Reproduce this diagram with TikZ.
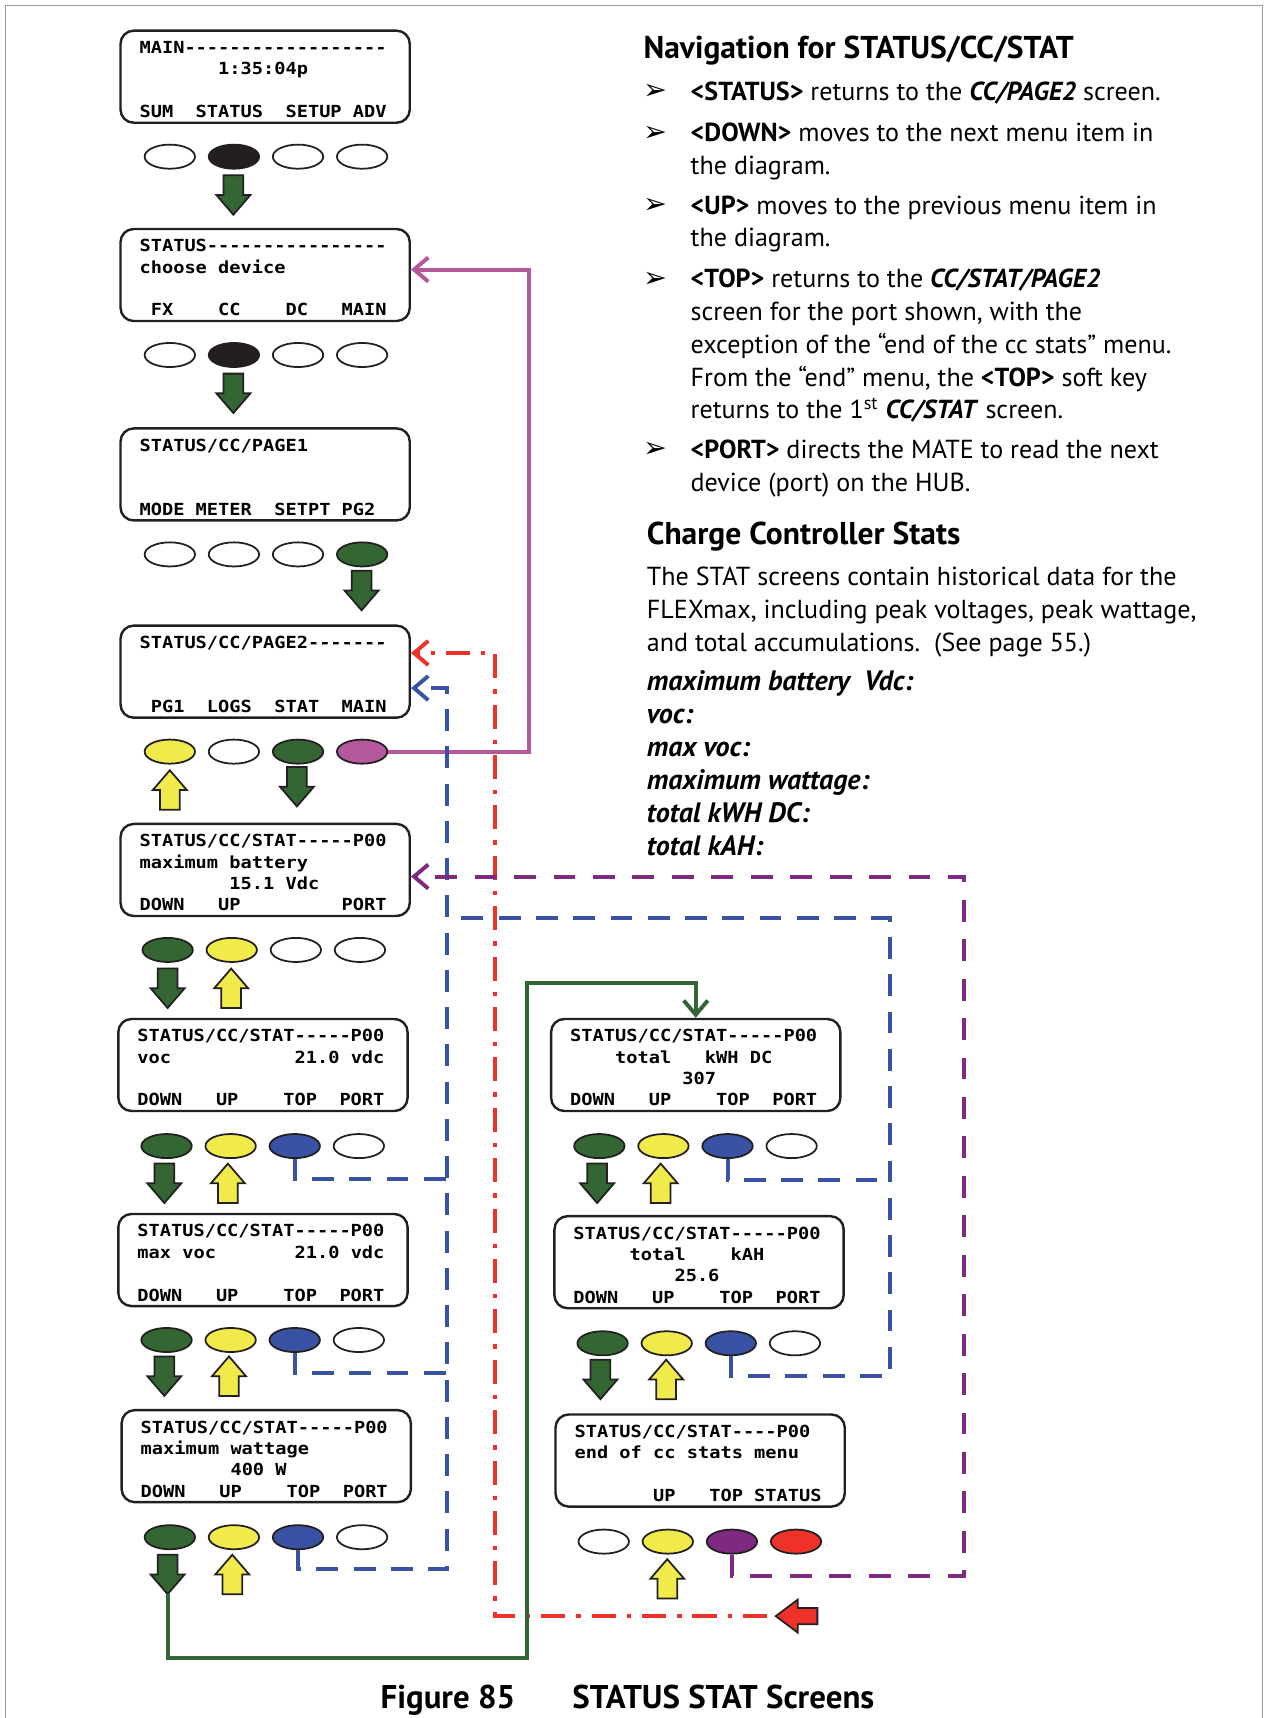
\documentclass[tikz,border=0pt]{standalone}
\usepackage{fontspec}
\setmainfont{PT Sans}
\setmonofont{DejaVu Sans Mono}[FakeStretch=1.12]
\newfontfamily\dingfont{DejaVu Sans}
\usetikzlibrary{shapes.geometric,arrows.meta}
\definecolor{kgreen}{RGB}{52,102,52}
\definecolor{kyellow}{RGB}{240,234,75}
\definecolor{kblue}{RGB}{58,82,163}
\definecolor{kmag}{RGB}{181,88,158}
\definecolor{kpur}{RGB}{125,42,128}
\definecolor{kred}{RGB}{238,50,42}
\definecolor{kblack}{RGB}{35,31,32}
\newcommand\bi[1]{\textbf{\textit{#1}}}
% lcd screen: name, x, y (top left), four lines
\newcommand\lcd[7]{%
  \node[lcdbox] (#1) at (#2+132,#3+42) {};
  \node[lcdtext] (#1t) at (#2+17,#3+6.85) {\strut#4\\\strut#5\\\strut#6\\\strut#7};}
% row of soft keys: name, x of first key, y, four fills
\newcommand\keyrow[7]{%
  \foreach \c [count=\i] in {#4,#5,#6,#7}
    \node[key,fill=\c] (#1\i) at (#2+58.5*\i-58.5,#3) {};}
\newcommand\dnarr[3]{%
  \draw[blk,fill=kgreen] (#2-9,#3) -- ++(18,0) -- ++(0,18) -- ++(6.5,0)
    -- ++(-15.5,18) coordinate (#1) -- ++(-15.5,-18) -- ++(6.5,0) -- cycle;}
\newcommand\uparr[2]{%
  \draw[blk,fill=kyellow] (#1,#2) -- ++(15.5,18) -- ++(-6.5,0) -- ++(0,18)
    -- ++(-18,0) -- ++(0,-18) -- ++(-6.5,0) -- cycle;}
\begin{document}
\begin{tikzpicture}[x=0.5pt,y=-0.5pt,
    lcdbox/.style={draw=kblack,line width=1.1pt,rounded corners=6pt,minimum width=132pt,minimum height=42pt,inner sep=0},
    lcdtext/.style={anchor=north west,inner sep=0,align=left,font=\ttfamily\bfseries\fontsize{7.6}{9.75}\selectfont},
    key/.style={ellipse,draw=kblack,line width=0.8pt,minimum width=23pt,minimum height=11pt,inner sep=0},
    blk/.style={draw=kblack,line width=0.8pt},
    bartip/.style={-{Straight Barb[length=6.5pt,width=11pt]}},
    magline/.style={kmag,line width=1.8pt,bartip},
    redline/.style={kred,line width=1.8pt,dash pattern=on 11pt off 5pt on 2pt off 5pt,bartip},
    blueline/.style={kblue,line width=1.8pt,dash pattern=on 10pt off 7pt},
    purline/.style={kpur,line width=1.8pt,dash pattern=on 10pt off 8pt},
    grnline/.style={kgreen,line width=1.8pt},
    txt/.style={anchor=north west,inner sep=0,align=left,font=\fontsize{11.9}{15}\selectfont},
    hd/.style={anchor=base west,inner sep=0,font=\bfseries\fontsize{14.4}{17}\selectfont},
    bul/.style={anchor=base west,inner sep=0,font=\dingfont\fontsize{13}{15}\selectfont},
    figcap/.style={anchor=base west,inner sep=0,font=\bfseries\fontsize{15}{18}\selectfont}]
\useasboundingbox (0,0) rectangle (1154,1568);
\draw[black!40,line width=0.6pt] (5,1568) -- (5,5) -- (1152,5) -- (1152,1568);

% left column
\lcd{s1}{110}{28}{MAIN------------------}{~~~~~~~1:35:04p}{}{SUM~~STATUS~~SETUP~ADV}
\keyrow{k1}{155}{143}{white}{kblack}{white}{white}
\dnarr{d1}{213}{160}
\lcd{s2}{110}{209}{STATUS----------------}{choose~device}{}{~FX~~~~CC~~~~DC~~~MAIN}
\keyrow{k2}{155}{324}{white}{kblack}{white}{white}
\dnarr{d2}{213}{341}
\lcd{s3}{110}{391}{STATUS/CC/PAGE1}{}{}{MODE~METER~~SETPT~PG2}
\keyrow{k3}{155}{506}{white}{white}{white}{kgreen}
\dnarr{d3}{330}{521}
\lcd{s4}{110}{571}{STATUS/CC/PAGE2-------}{}{}{~PG1~~LOGS~~STAT~~MAIN}
\keyrow{k4}{155}{686}{kyellow}{white}{kgreen}{kmag}
\uparr{155}{703}
\dnarr{d4}{271}{700}
\lcd{s5}{110}{752}{STATUS/CC/STAT-----P00}{maximum~battery}{~~~~~~~~15.1~Vdc}{DOWN~~~UP~~~~~~~~~PORT}
\keyrow{k5}{153}{867}{kgreen}{kyellow}{white}{white}
\dnarr{d5}{153}{884}
\uparr{211}{884}
\lcd{s6}{108}{930}{STATUS/CC/STAT-----P00}{voc~~~~~~~~~~~21.0~vdc}{}{DOWN~~~UP~~~~TOP~~PORT}
\keyrow{k6}{152}{1046}{kgreen}{kyellow}{kblue}{white}
\dnarr{d6}{150}{1062}
\uparr{208}{1062}
\lcd{s7}{108}{1108}{STATUS/CC/STAT-----P00}{max~voc~~~~~~~21.0~vdc}{}{DOWN~~~UP~~~~TOP~~PORT}
\keyrow{k7}{152}{1223}{kgreen}{kyellow}{kblue}{white}
\dnarr{d7}{150}{1238}
\uparr{209}{1238}
\lcd{s8}{111}{1287}{STATUS/CC/STAT-----P00}{maximum~wattage}{~~~~~~~~400~W}{DOWN~~~UP~~~~TOP~~PORT}
\keyrow{k8}{155}{1403}{kgreen}{kyellow}{kblue}{white}
\dnarr{d8}{153}{1419}
\uparr{212}{1419}

% right column
\lcd{r1}{503}{930}{STATUS/CC/STAT-----P00}{~~~~total~~~kWH~DC}{~~~~~~~~~~307}{DOWN~~~UP~~~~TOP~~PORT}
\keyrow{q1}{547}{1046}{kgreen}{kyellow}{kblue}{white}
\dnarr{e1}{545}{1062}
\uparr{603}{1062}
\lcd{r2}{506}{1110}{STATUS/CC/STAT-----P00}{~~~~~total~~~~kAH}{~~~~~~~~~25.6}{DOWN~~~UP~~~~TOP~~PORT}
\keyrow{q2}{550}{1226}{kgreen}{kyellow}{kblue}{white}
\dnarr{e2}{548}{1241}
\uparr{608}{1241}
\lcd{r3}{507}{1291}{STATUS/CC/STAT----P00}{end~of~cc~stats~menu}{}{~~~~~~~UP~~~TOP~STATUS}
\keyrow{q3}{551}{1407}{white}{kyellow}{kpur}{kred}
\uparr{609}{1423}
\draw[blk,fill=kred] (708,1475) coordinate (rtip) -- ++(20,-15) -- ++(0,7.5) -- ++(18,0)
  -- ++(0,15) -- ++(-18,0) -- ++(0,7.5) -- cycle;

% connectors
\coordinate (mg) at (483,246);
\coordinate (rd) at (452,596);
\coordinate (bu) at (408,628);
\coordinate (bd) at (408,1432);
\coordinate (b6) at (408,1076);
\coordinate (b7) at (408,1253);
\coordinate (bt) at (408,838);
\coordinate (br) at (812,838);
\coordinate (bq1) at (812,1077);
\coordinate (bq2) at (812,1256);
\coordinate (pr) at (880,800);
\coordinate (pb) at (880,1438);
\coordinate (gb) at (481,1513);
\coordinate (gt) at (481,897);
\draw[magline] (k44.east) -| (mg) -- (s2.east |- mg);
\draw[redline] ([xshift=-4pt]rtip) -| (rd) -- (s4.east |- rd);
\draw[blueline,bartip] (k83.south) |- (bd) -- (bu) -- (s4.east |- bu);
\draw[blueline] (k63.south) |- (b6);
\draw[blueline] (k73.south) |- (b7);
\draw[blueline] (q23.south) |- (bq2) -- (br) -- (bt);
\draw[blueline] (q13.south) |- (bq1);
\draw[purline,bartip] (q33.south) |- (pb) -- (pr) -- (s5.east |- pr);
\draw[grnline,bartip] (d8) |- (gb) -- (gt) -| (r1.north);

% text
\node[hd] (nav) at (587,53) {Navigation for STATUS/CC/STAT};
\foreach \y [count=\i] in {91,129,195,262,418}
  \node[bul] (m\i) at (587,\y) {➢};
\node[txt] (t1) at (630,70) {\strut\textbf{<STATUS>} returns to the \bi{CC/PAGE2} screen.};
\node[txt] (t2) at (630,108) {\strut\textbf{<DOWN>} moves to the next menu item in\\the diagram.};
\node[txt] (t3) at (630,174) {\strut\textbf{<UP>} moves to the previous menu item in\\the diagram.};
\node[txt] (t4) at (630,241) {\strut\textbf{<TOP>} returns to the \bi{CC/STAT/PAGE2}\\screen for the port shown, with the\\exception of the “end of the cc stats” menu.\\From the “end” menu, the \textbf{<TOP>} soft key\\returns to the 1\textsuperscript{st} \bi{CC/STAT} screen.};
\node[txt] (t5) at (630,397) {\strut\textbf{<PORT>} directs the MATE to read the next\\device (port) on the HUB.};
\node[hd] (h2) at (590,497) {Charge Controller Stats};
\node[txt] (p1) at (590,513) {\strut The STAT screens contain historical data for the\\FLEXmax, including peak voltages, peak wattage,\\and total accumulations.~~(See page 55.)};
\node[txt,font=\bfseries\itshape\fontsize{12.8}{15}\selectfont] (p2) at (590,609) {\strut maximum battery~~Vdc:\\voc:\\max voc:\\maximum wattage:\\total kWH DC:\\total kAH:};
\node[figcap] (fig) at (347,1559) {Figure 85};
\node[figcap] (figt) at (522,1559) {STATUS STAT Screens};
\end{tikzpicture}
\end{document}
